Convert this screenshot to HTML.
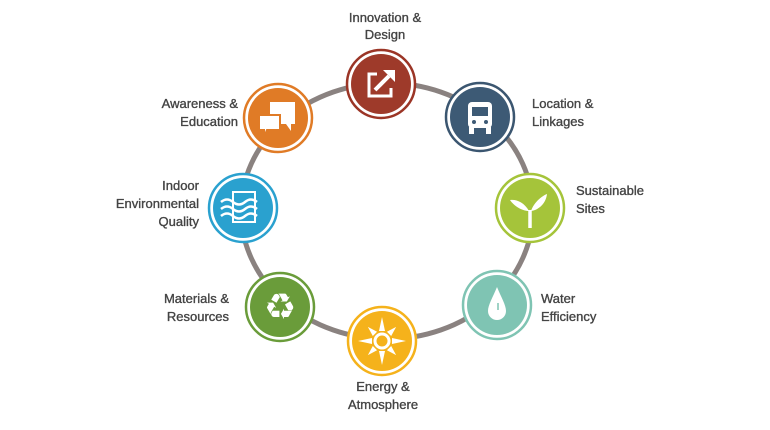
<!DOCTYPE html>
<html><head><meta charset="utf-8"><style>
html,body{margin:0;padding:0;background:#fff;}
svg{display:block}
text{font-family:"Liberation Sans",Arial,sans-serif;font-size:13px;fill:#444;stroke:#444;stroke-width:0.35px;}
</style></head><body>
<svg width="770" height="430" viewBox="0 0 770 430">
<ellipse cx="387" cy="211" rx="146" ry="128" fill="none" stroke="#8a8280" stroke-width="5"/>

<!-- Innovation -->
<g transform="translate(381,84)"><circle r="34" fill="#fff" stroke="#9b3526" stroke-width="2.5"/><circle r="30" fill="#9e3a2a"/>
<path d="M-4,-10 H-12 V12 H10 V4" fill="none" stroke="#fff" stroke-width="3"/>
<path d="M-6,6 L8,-8" stroke="#fff" stroke-width="4"/><path d="M2,-14 L14,-14 L14,-2 Z" fill="#fff"/></g>
<text x="385" y="22" text-anchor="middle">Innovation &amp;</text>
<text x="385" y="39" text-anchor="middle">Design</text>

<!-- Location -->
<g transform="translate(480,117)"><circle r="34" fill="#fff" stroke="#3b5670" stroke-width="2.5"/><circle r="30" fill="#3d5a75"/>
<rect x="-12" y="-15" width="24" height="26" rx="4" fill="#fff"/><rect x="-8" y="-10" width="16" height="9" fill="#3d5a75"/>
<circle cx="-6" cy="5" r="2" fill="#3d5a75"/><circle cx="6" cy="5" r="2" fill="#3d5a75"/>
<rect x="-11" y="10" width="5" height="7" fill="#fff"/><rect x="6" y="10" width="5" height="7" fill="#fff"/></g>
<text x="532" y="108">Location &amp;</text>
<text x="532" y="126">Linkages</text>

<!-- Awareness -->
<g transform="translate(278,118)"><circle r="34" fill="#fff" stroke="#e07b26" stroke-width="2.5"/><circle r="30" fill="#e07b26"/>
<path d="M-8,-16 H17 V6 H13 L13,13 L8,6 H-8 Z" fill="#fff"/>
<path d="M-19,-3 H2 V12 H-11 L-14,19 L-14,12 H-19 Z" fill="#fff" stroke="#e07b26" stroke-width="2"/></g>
<text x="238" y="108" text-anchor="end">Awareness &amp;</text>
<text x="238" y="126" text-anchor="end">Education</text>

<!-- Indoor -->
<g transform="translate(243,208)"><circle r="34" fill="#fff" stroke="#2aa1cf" stroke-width="2.5"/><circle r="30" fill="#2aa1cf"/>
<rect x="-10" y="-16" width="22" height="30" fill="none" stroke="#fff" stroke-width="2"/>
<path d="M-22,-6 q6,-5 12,0 t12,0 t12,0 M-22,1 q6,-5 12,0 t12,0 t12,0 M-22,8 q6,-5 12,0 t12,0 t12,0" fill="none" stroke="#fff" stroke-width="2.5"/></g>
<text x="199" y="190" text-anchor="end">Indoor</text>
<text x="199" y="208" text-anchor="end">Environmental</text>
<text x="199" y="226" text-anchor="end">Quality</text>

<!-- Sustainable -->
<g transform="translate(530,208)"><circle r="34" fill="#fff" stroke="#a5c43a" stroke-width="2.5"/><circle r="30" fill="#a5c43a"/>
<path d="M0,20 V2" stroke="#fff" stroke-width="3.5"/>
<path d="M-1,3 C-6,-6 -14,-9 -20,-8 C-16,-2 -8,3 -1,3Z" fill="#fff"/>
<path d="M1,3 C4,-6 12,-12 17,-14 C16,-5 9,2 1,3Z" fill="#fff"/></g>
<text x="576" y="195">Sustainable</text>
<text x="576" y="213">Sites</text>

<!-- Materials -->
<g transform="translate(280,307)"><circle r="34" fill="#fff" stroke="#6a9c3a" stroke-width="2.5"/><circle r="30" fill="#6a9c3a"/>
<text x="0" y="12" text-anchor="middle" style="font-size:36px;fill:#fff;stroke:none;font-family:'DejaVu Sans',sans-serif">♻</text></g>
<text x="229" y="303" text-anchor="end">Materials &amp;</text>
<text x="229" y="321" text-anchor="end">Resources</text>

<!-- Energy -->
<g transform="translate(382,341)"><circle r="34" fill="#fff" stroke="#f5b21b" stroke-width="2.5"/><circle r="30" fill="#f5b21b"/>
<g fill="#fff"><path d="M-3,-10 L0,-24 L3,-10Z"/><path d="M-3,10 L0,24 L3,10Z"/><path d="M-10,-3 L-24,0 L-10,3Z"/><path d="M10,-3 L24,0 L10,3Z"/>
<g transform="rotate(45)"><path d="M-3,-10 L0,-20 L3,-10Z"/><path d="M-3,10 L0,20 L3,10Z"/><path d="M-10,-3 L-20,0 L-10,3Z"/><path d="M10,-3 L20,0 L10,3Z"/></g></g>
<circle r="7" fill="none" stroke="#fff" stroke-width="3"/></g>
<text x="383" y="391" text-anchor="middle">Energy &amp;</text>
<text x="383" y="409" text-anchor="middle">Atmosphere</text>

<!-- Water -->
<g transform="translate(497,305)"><circle r="34" fill="#fff" stroke="#7fc4b3" stroke-width="2.5"/><circle r="30" fill="#7fc4b3"/>
<path d="M0,-18 C4,-8 9,0 9,6 A9,9 0 0 1 -9,6 C-9,0 -4,-8 0,-18Z" fill="#fff"/>
<path d="M1,-2 V5" stroke="#7fc4b3" stroke-width="1.5"/></g>
<text x="541" y="303">Water</text>
<text x="541" y="321">Efficiency</text>
</svg>
</body></html>
